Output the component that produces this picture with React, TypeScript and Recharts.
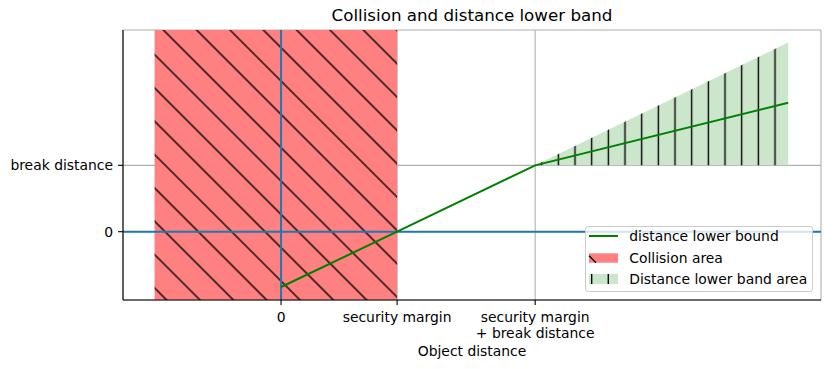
import React from 'react';
import {
  ComposedChart,
  Line,
  Area,
  XAxis,
  YAxis,
  CartesianGrid,
  ReferenceArea,
  ReferenceLine,
  Legend,
} from 'recharts';

// ---- data ----
const xTicks = [0, 1, 2.19];
const xTickLabels = ['0', 'security margin', 'security margin\n+ break distance'];
const yTicks = [0, 1.2];
const yTickLabels = ['0', 'break distance'];

const lowerBoundX = [0, 1, 2.19, 4.37];
const lowerBoundY = [-1, 0, 1.2, 2.33];

const bandX = [2.19, 4.37];
const bandLow = [1.2, 1.2];
const bandHigh = [1.2, 3.42];

const collisionX = [-1.09, 1];

const xDomain = [-1.362, 4.653];
const yDomain = [-1.235, 3.647];

const seriesNames = ['distance lower bound', 'Collision area', 'Distance lower band area'];

// ---- build table ----
const data = lowerBoundX.map((x, i) => {
  const bi = bandX.indexOf(x);
  return {
    x,
    lower: lowerBoundY[i],
    band: bi >= 0 ? [bandLow[bi], bandHigh[bi]] : undefined,
  };
});

const FONT = '"DejaVu Sans", sans-serif';

const XTick = (props: any) => {
  const { x, y, payload } = props;
  const idx = xTicks.indexOf(payload.value);
  const label = idx >= 0 ? xTickLabels[idx] : String(payload.value);
  const lines = label.split('\n');
  return (
    <g>
      {lines.map((l, i) => (
        <text
          key={i}
          x={x}
          y={y + 14.5 + i * 16}
          textAnchor="middle"
          fontFamily={FONT}
          fontSize={13.9}
          fill="#000"
        >
          {l}
        </text>
      ))}
    </g>
  );
};

const LegendBox = () => (
  <div
    style={{
      width: 228,
      height: 66,
      boxSizing: 'border-box',
      border: '1px solid #cccccc',
      borderRadius: 3,
      background: 'rgba(255,255,255,0.8)',
      position: 'relative',
    }}
  >
    <svg width={228} height={66} style={{ position: 'absolute', left: -1, top: -1, overflow: 'visible' }}>
      <line x1={4} y1={10} x2={33} y2={10} stroke="#008000" strokeWidth={2} />
      <rect x={4} y={27.3} width={29} height={9.4} fill="#ff8080" />
      <line x1={4} y1={29.7} x2={11} y2={36.7} stroke="#000" strokeWidth={1.3} />
      <rect x={4} y={48} width={29} height={10} fill="#cce6cc" />
      <line x1={6.67} y1={48} x2={6.67} y2={58} stroke="#000" strokeWidth={1.4} />
      <line x1={23.3} y1={48} x2={23.3} y2={58} stroke="#000" strokeWidth={1.4} />
      {seriesNames.map((n, i) => (
        <text key={n} x={44.3} y={15 + i * 21.5} fontFamily={FONT} fontSize={13.9} fill="#000">
          {n}
        </text>
      ))}
    </svg>
  </div>
);

export default function App() {
  return (
    <div style={{ position: 'absolute', left: 0, top: 0, width: 833, height: 369, background: '#fff' }}>
      <div
        style={{
          position: 'absolute',
          left: 123,
          width: 698,
          top: 4,
          textAlign: 'center',
          fontFamily: FONT,
          fontSize: 16.7,
          lineHeight: '22px',
          color: '#000',
        }}
      >
        Collision and distance lower band
      </div>
      <ComposedChart
        width={833}
        height={369}
        data={data}
        margin={{ top: 30, right: 12, bottom: 9, left: 10 }}
      >
        <defs>
          <pattern
            id="redHatch"
            patternUnits="userSpaceOnUse"
            width={10}
            height={23.57}
            patternTransform="rotate(45) translate(0, 11.785)"
          >
            <rect x={0} y={0} width={10} height={23.57} fill="#ff8080" />
            <line x1={-1} y1={11.785} x2={11} y2={11.785} stroke="#000" strokeWidth={1.35} />
          </pattern>
          <pattern id="greenHatch" patternUnits="userSpaceOnUse" x={0} y={0} width={16.667} height={10}>
            <rect x={0} y={0} width={16.667} height={10} fill="#cce6cc" />
            <line x1={8.333} y1={-1} x2={8.333} y2={11} stroke="#000" strokeWidth={1.4} />
          </pattern>
        </defs>
        <CartesianGrid stroke="#b0b0b0" strokeWidth={1.1} />
        <XAxis
          dataKey="x"
          type="number"
          domain={xDomain}
          allowDataOverflow
          ticks={xTicks}
          tick={<XTick />}
          tickSize={5}
          tickMargin={2}
          height={60}
          axisLine={{ stroke: '#000', strokeWidth: 1.1 }}
          tickLine={{ stroke: '#000', strokeWidth: 1.1 }}
          interval={0}
          label={{
            value: 'Object distance',
            position: 'insideBottom',
            offset: 4,
            fontFamily: FONT,
            fontSize: 13.9,
            fill: '#000',
          }}
        />
        <XAxis
          xAxisId="top"
          orientation="top"
          type="number"
          domain={xDomain}
          allowDataOverflow
          tick={false}
          tickLine={false}
          height={0}
          axisLine={{ stroke: '#000', strokeWidth: 1.1 }}
        />
        <YAxis
          type="number"
          domain={yDomain}
          allowDataOverflow
          ticks={yTicks}
          tickFormatter={(v: number) => {
            const i = yTicks.indexOf(v);
            return i >= 0 ? yTickLabels[i] : String(v);
          }}
          width={113}
          tickSize={5}
          tickMargin={5}
          interval={0}
          tick={{ fontFamily: FONT, fontSize: 13.9, fill: '#000' }}
          axisLine={{ stroke: '#000', strokeWidth: 1.1 }}
          tickLine={{ stroke: '#000', strokeWidth: 1.1 }}
        />
        <YAxis
          yAxisId="right"
          orientation="right"
          type="number"
          domain={yDomain}
          allowDataOverflow
          tick={false}
          tickLine={false}
          width={0}
          axisLine={{ stroke: '#000', strokeWidth: 1.1 }}
        />
        <ReferenceArea
          x1={collisionX[0]}
          x2={collisionX[1]}
          fill="url(#redHatch)"
          fillOpacity={1}
          stroke="none"
          ifOverflow="hidden"
        />
        <Area
          dataKey="band"
          type="linear"
          fill="url(#greenHatch)"
          fillOpacity={1}
          stroke="none"
          isAnimationActive={false}
          activeDot={false}
          dot={false}
          legendType="none"
        />
        <ReferenceLine y={0} stroke="#1f77b4" strokeWidth={2} />
        <ReferenceLine x={0} stroke="#1f77b4" strokeWidth={2} />
        <Line
          dataKey="lower"
          type="linear"
          stroke="#008000"
          strokeWidth={2}
          dot={false}
          activeDot={false}
          isAnimationActive={false}
          connectNulls
        />
        <Legend
          layout="horizontal"
          verticalAlign="middle"
          align="center"
          content={<LegendBox />}
          wrapperStyle={{ left: 585, top: 226, width: 228, height: 66, position: 'absolute' }}
        />
      </ComposedChart>
    </div>
  );
}
